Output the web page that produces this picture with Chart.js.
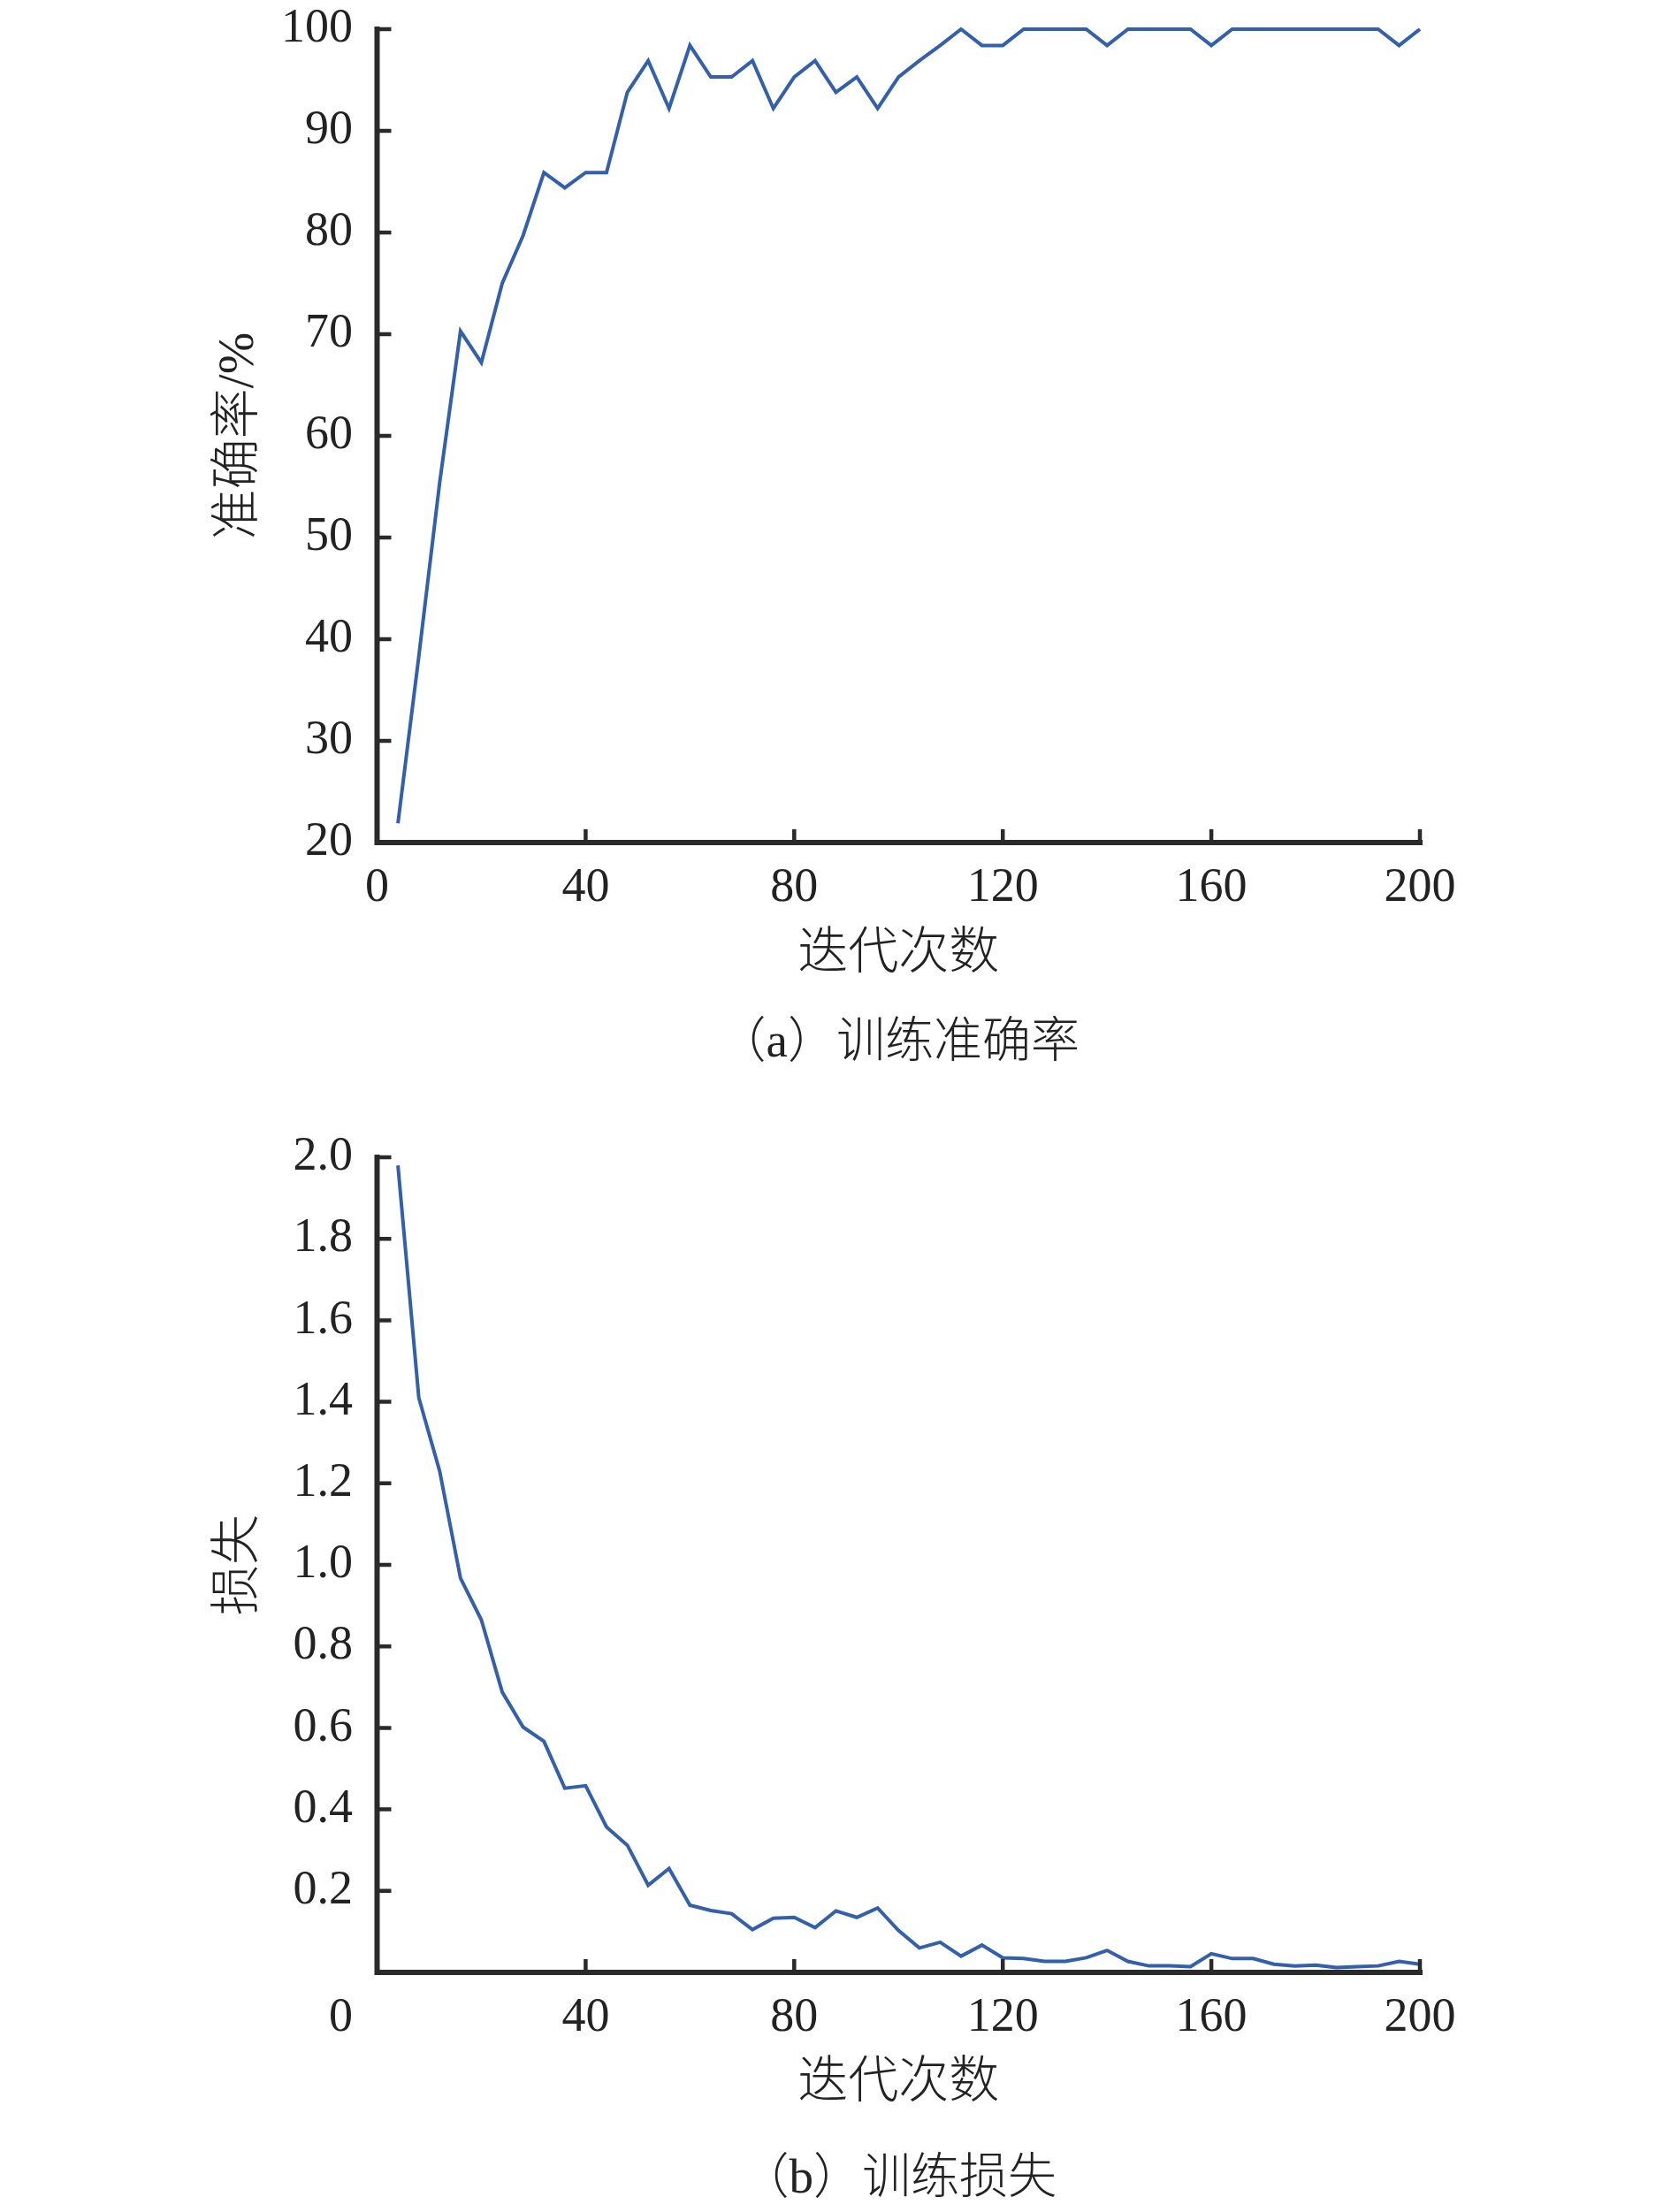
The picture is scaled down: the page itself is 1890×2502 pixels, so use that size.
<!DOCTYPE html>
<html>
<head>
<meta charset="utf-8">
<script src="https://cdn.jsdelivr.net/npm/chart.js@4/dist/chart.umd.min.js"></script>
<style>
  html, body { margin: 0; padding: 0; background: #fff; overflow: hidden; }
  .panel { position: absolute; left: 0; }
</style>
</head>
<body>
<div class="panel" style="top:0"><canvas id="accChart" width="1890" height="1251"></canvas></div>
<div class="panel" style="top:1251px"><canvas id="lossChart" width="1890" height="1251"></canvas></div>
<script>
// iterations (every 4 steps)
const iterations = [
  4, 8, 12, 16, 20, 24, 28, 32, 36, 40,
  44, 48, 52, 56, 60, 64, 68, 72, 76, 80,
  84, 88, 92, 96, 100, 104, 108, 112, 116, 120,
  124, 128, 132, 136, 140, 144, 148, 152, 156, 160,
  164, 168, 172, 176, 180, 184, 188, 192, 196, 200
];

// (a) training accuracy, %
const accuracy = [
  21.9, 38.3, 55.4, 70.3, 67.2, 75.0, 79.7, 85.9, 84.4, 85.9,
  85.9, 93.8, 96.9, 92.2, 98.4, 95.3, 95.3, 96.9, 92.2, 95.3,
  96.9, 93.8, 95.3, 92.2, 95.3, 96.9, 98.4, 100, 98.4, 98.4,
  100, 100, 100, 100, 98.4, 100, 100, 100, 100, 98.4,
  100, 100, 100, 100, 100, 100, 100, 100, 98.4, 100
];

// (b) training loss
const loss = [
  1.98, 1.41, 1.23, 0.967, 0.865, 0.688, 0.602, 0.567, 0.452, 0.458,
  0.357, 0.312, 0.214, 0.255, 0.165, 0.152, 0.144, 0.105, 0.133, 0.135,
  0.110, 0.151, 0.135, 0.158, 0.103, 0.060, 0.074, 0.040, 0.067, 0.036,
  0.034, 0.027, 0.027, 0.036, 0.054, 0.027, 0.016, 0.016, 0.014, 0.046,
  0.034, 0.034, 0.020, 0.016, 0.018, 0.012, 0.014, 0.016, 0.027, 0.020
];

const xTicks = [0, 40, 80, 120, 160, 200];
const accTicks = [20, 30, 40, 50, 60, 70, 80, 90, 100];
const lossTicks = [0, 0.2, 0.4, 0.6, 0.8, 1.0, 1.2, 1.4, 1.6, 1.8, 2.0];

const LINE_COLOR = "#3360ad";
const AXIS_COLOR = "#2a2a2a";
const TEXT_COLOR = "#222";
const NUM_FONT = '"Liberation Serif", "Times New Roman", serif';
const CJK_FONT = '"Liberation Serif", "Noto Sans CJK SC", sans-serif';

const TICK_PAD_X = 19;
const TICK_PAD_Y = 27.5;

// axes with inward tick marks, like the original figure
const axisPlugin = {
  id: "inwardAxes",
  afterDatasetsDraw(chart, args, opts) {
    const { ctx, chartArea: a, scales } = chart;
    const xs = scales.x, ys = scales.y;
    ctx.save();
    ctx.strokeStyle = AXIS_COLOR;
    ctx.lineWidth = 6;
    ctx.lineCap = "square";
    ctx.beginPath();
    ctx.moveTo(a.left, a.top);
    ctx.lineTo(a.left, a.bottom);
    ctx.lineTo(a.right, a.bottom);
    ctx.stroke();

    ctx.lineWidth = 4.5;
    ctx.lineCap = "butt";
    ctx.beginPath();
    ys.ticks.forEach((t) => {
      const py = ys.getPixelForValue(t.value);
      ctx.moveTo(a.left, py);
      ctx.lineTo(a.left + 16, py);
    });
    xs.ticks.forEach((t) => {
      const px = xs.getPixelForValue(t.value);
      ctx.moveTo(px, a.bottom);
      ctx.lineTo(px, a.bottom - 15);
    });
    ctx.stroke();

    // the loss panel prints its "0" under the y labels
    if (opts && opts.zeroLabel) {
      const f = xs.options.ticks.font;
      ctx.fillStyle = TEXT_COLOR;
      ctx.font = f.size + "px " + NUM_FONT;
      ctx.textAlign = "right";
      ctx.textBaseline = "middle";
      ctx.fillText("0", a.left - TICK_PAD_Y, a.bottom + TICK_PAD_X + (f.size * 1.2) / 2);
    }
    ctx.restore();
  },
};

function makeChart(id, values, cfg) {
  const ctx = document.getElementById(id).getContext("2d");
  return new Chart(ctx, {
    type: "line",
    data: {
      datasets: [
        {
          data: iterations.map((it, i) => ({ x: it, y: values[i] })),
          borderColor: LINE_COLOR,
          borderWidth: 4,
          pointRadius: 0,
          tension: 0,
          fill: false,
          clip: 10,
        },
      ],
    },
    options: {
      responsive: false,
      animation: false,
      devicePixelRatio: 1,
      layout: { padding: cfg.padding },
      plugins: {
        legend: { display: false },
        tooltip: { enabled: false },
        title: {
          display: true,
          text: cfg.caption,
          position: "bottom",
          fullSize: false,
          color: TEXT_COLOR,
          font: { family: CJK_FONT, size: 55, weight: "300", lineHeight: 1.2 },
          padding: { top: cfg.captionGap, bottom: 0 },
        },
        inwardAxes: { zeroLabel: cfg.zeroLabel },
      },
      scales: {
        x: {
          type: "linear",
          min: 0,
          max: 200,
          afterBuildTicks: (s) => { s.ticks = xTicks.map((v) => ({ value: v })); },
          afterFit: (s) => {
            s.height = cfg.xHeight;
            s.paddingLeft = 0;
            s.paddingRight = 0;
          },
          grid: { display: false, drawTicks: false },
          border: { display: false },
          ticks: {
            padding: TICK_PAD_X,
            maxRotation: 0,
            autoSkip: false,
            color: TEXT_COLOR,
            font: { family: NUM_FONT, size: 54, lineHeight: 1.2 },
            callback: (v) => (cfg.zeroLabel && v === 0 ? "" : String(v)),
          },
          title: {
            display: true,
            text: "迭代次数",
            color: TEXT_COLOR,
            font: { family: CJK_FONT, size: 57, weight: "300", lineHeight: 1.2 },
            padding: 0,
          },
        },
        y: {
          min: cfg.yTicks[0],
          max: cfg.yTicks[cfg.yTicks.length - 1],
          afterBuildTicks: (s) => { s.ticks = cfg.yTicks.map((v) => ({ value: v })); },
          afterFit: (s) => {
            s.width = 426.5 - cfg.padding.left;
            s.paddingTop = 0;
            s.paddingBottom = 0;
          },
          grid: { display: false, drawTicks: false },
          border: { display: false },
          ticks: {
            padding: TICK_PAD_Y,
            autoSkip: false,
            color: TEXT_COLOR,
            font: { family: NUM_FONT, size: 54, lineHeight: 1.2 },
            callback: cfg.yLabel,
          },
          title: {
            display: true,
            text: cfg.yTitle,
            color: TEXT_COLOR,
            font: { family: CJK_FONT, size: 57, weight: "300", lineHeight: 1.2 },
            padding: 0,
          },
        },
      },
    },
    plugins: [axisPlugin],
  });
}

makeChart("accChart", accuracy, {
  padding: { left: 237, top: 33, right: 284, bottom: 37 },
  xHeight: 161.2,
  captionGap: 33.8,
  caption: "（a）训练准确率",
  yTitle: "准确率/%",
  yTicks: accTicks,
  yLabel: (v) => String(v),
  zeroLabel: false,
});

makeChart("lossChart", loss, {
  padding: { left: 237, top: 58, right: 284, bottom: 3 },
  xHeight: 160.2,
  captionGap: 41.8,
  caption: "（b）训练损失",
  yTitle: "损失",
  yTicks: lossTicks,
  yLabel: (v) => (v === 0 ? "" : Number(v).toFixed(1)),
  zeroLabel: true,
});
</script>
</body>
</html>
